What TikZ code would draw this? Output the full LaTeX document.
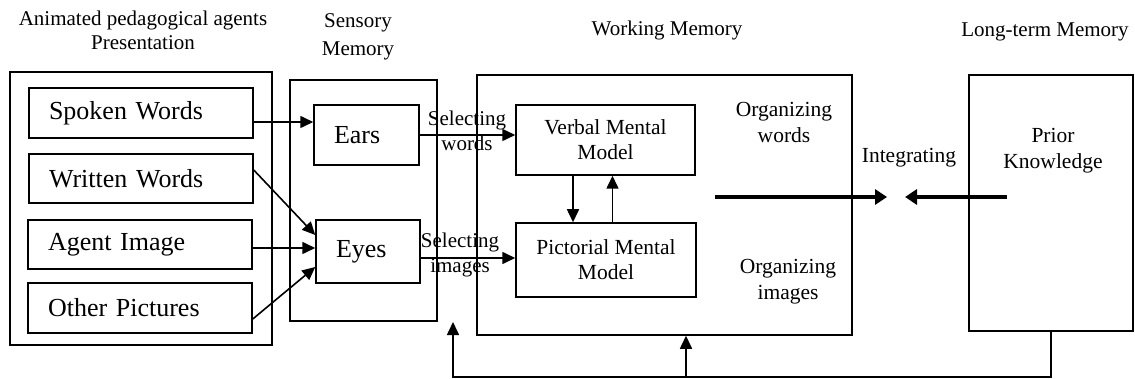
\documentclass[tikz,border=0pt]{standalone}
\usepackage{fontspec}
\setmainfont{Liberation Serif}
\usetikzlibrary{arrows.meta}
\begin{document}
\begin{tikzpicture}[x=1pt,y=-1pt,
  box/.style={draw,line width=1.5pt,inner sep=0pt},
  lbox/.style={box,align=left,inner xsep=20pt,inner ysep=0pt,font=\fontsize{26}{30}\selectfont},
  cbox/.style={box,align=center,font=\fontsize{21.5}{25}\selectfont},
  lbl/.style={align=center,inner sep=0pt,font=\fontsize{21.5}{26}\selectfont},
  ttl/.style={align=center,inner sep=0pt,font=\fontsize{21}{24}\selectfont},
  arr/.style={line width=1.6pt,-{Triangle[length=13pt,width=12pt]}},
  thickarr/.style={line width=4.5pt,-{Triangle[length=12pt,width=15pt]}}]
\useasboundingbox (0,0) rectangle (1135,379);

% titles
\node[ttl] (t1) at (143,30) {Animated pedagogical agents\\Presentation};
\node[ttl,font=\fontsize{21}{28}\selectfont] (t2) at (358,37) {Sensory\\Memory};
\node[ttl] (t3) at (667,30) {Working Memory};
\node[ttl] (t4) at (1045,32) {Long-term Memory};

% presentation
\node[box,minimum width=262pt,minimum height=273pt] (pres) at (141,208.5) {};
\node[lbox,text width=184pt,minimum height=50pt] (spoken) at (141,113) {Spoken Words};
\node[lbox,text width=184pt,minimum height=49pt] (written) at (141,178.5) {Written Words};
\node[lbox,text width=184pt,minimum height=49pt] (agent) at (140,244.5) {Agent Image};
\node[lbox,text width=184pt,minimum height=50pt] (other) at (140,308) {Other Pictures};

% sensory memory
\node[box,minimum width=147pt,minimum height=241pt] (sens) at (363.5,200.5) {};
\node[lbox,text width=65pt,minimum height=60pt] (ears) at (366.5,135) {Ears};
\node[lbox,text width=64pt,minimum height=63pt] (eyes) at (368,251.5) {Eyes};

% working memory
\node[box,minimum width=375pt,minimum height=260pt] (wm) at (664.5,205) {};
\node[cbox,minimum width=179pt,minimum height=70pt] (verbal) at (605.5,140) {Verbal Mental\\Model};
\node[cbox,minimum width=180pt,minimum height=74pt] (pict) at (606,260) {Pictorial Mental\\Model};
\node[lbl] (orgw) at (784,122) {Organizing\\words};
\node[lbl] (orgi) at (788,282) {Organizing\\images};

% long-term memory
\node[box,minimum width=164pt,minimum height=256pt] (ltm) at (1051,203) {};
\node[lbl] (prior) at (1053,151) {Prior\\Knowledge};

% presentation -> sensory
\draw[arr] ([yshift=-9pt]spoken.east) coordinate (s1) -- (s1 -| ears.west);
\draw[arr] ([yshift=8.5pt]written.east) -- ([yshift=16.5pt]eyes.west);
\draw[arr] ([yshift=-3.5pt]agent.east) coordinate (a1) -- (a1 -| eyes.west);
\draw[arr] ([yshift=-11pt]other.east) -- ([yshift=-15.5pt]eyes.west);

% sensory -> working
\draw[arr] (ears.east) -- (ears.east -| verbal.west);
\draw[arr] ([yshift=-6.5pt]eyes.east) coordinate (e1) -- (e1 -| pict.west);
\node[lbl,font=\fontsize{21}{25}\selectfont] (selw) at (467,130.5) {Selecting\\words};
\node[lbl,font=\fontsize{21}{25}\selectfont] (seli) at (460,255) {Selecting\\images};

% verbal <-> pictorial
\draw[arr] ([xshift=-32.5pt]verbal.south) coordinate (v1) -- (v1 |- pict.north);
\draw[arr] ([xshift=6.5pt]pict.north) coordinate (p1) -- (p1 |- verbal.south);

% integrating
\node[lbl] (integ) at (909,158) {Integrating};
\coordinate (ow) at (715,197);
\coordinate (ia) at (887,197);
\coordinate (ib) at (905,197);
\coordinate (pk) at (1007,197);
\draw[thickarr] (ow) -- (ia);
\draw[thickarr] (pk) -- (ib);

% feedback
\coordinate (fbt) at (453,322);
\coordinate (wmb) at ([xshift=21.5pt]wm.south);
\draw[arr] (ltm.south) -- ++(0,45) coordinate (fbc) -- (fbc -| fbt) -- (fbt);
\draw[arr] (wmb |- fbc) -- (wmb);
\end{tikzpicture}
\end{document}
